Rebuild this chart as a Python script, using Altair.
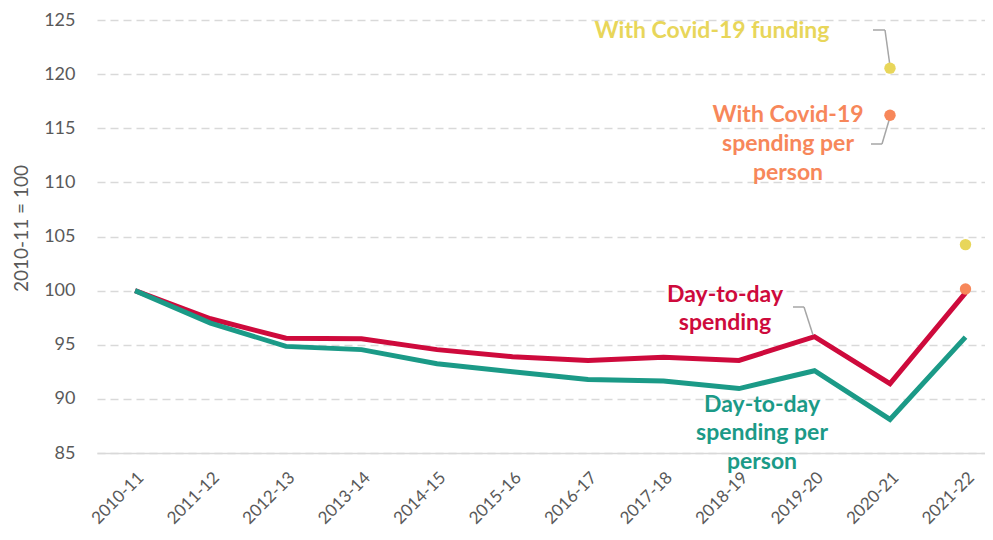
import altair as alt
import pandas as pd

years = ["2010-11", "2011-12", "2012-13", "2013-14", "2014-15", "2015-16",
         "2016-17", "2017-18", "2018-19", "2019-20", "2020-21", "2021-22"]
spending = [100, 97.4, 95.6, 95.55, 94.55, 93.9, 93.55, 93.85, 93.55, 95.75, 91.4, 99.8]
spending_pp = [100, 97.0, 94.85, 94.55, 93.25, 92.5, 91.8, 91.65, 90.95, 92.6, 88.1, 95.7]

covid_years = ["2020-21", "2021-22"]
covid_funding = [120.55, 104.25]
covid_pp = [116.2, 100.15]

RED = "#CE0A3C"
TEAL = "#1B9A87"
YELLOW = "#E8D65A"
ORANGE = "#F7875A"
GREY_TXT = "#595959"
FONT = "Lato"

line_df = pd.DataFrame({
    "year": years * 2,
    "value": spending + spending_pp,
    "series": ["spend"] * len(years) + ["pp"] * len(years),
})
pt_df = pd.DataFrame({
    "year": covid_years * 2,
    "value": covid_funding + covid_pp,
    "series": ["fund"] * 2 + ["cpp"] * 2,
})

ann_text = ["With Covid-19 funding",
            "With Covid-19", "spending per", "person",
            "Day-to-day", "spending",
            "Day-to-day", "spending per", "person"]
ann_color = [YELLOW, ORANGE, ORANGE, ORANGE, RED, RED, TEAL, TEAL, TEAL]
ann_x = [615, 691, 691, 691, 628, 628, 665, 665, 665]
ann_y = [11, 95, 124, 153, 275, 303, 385, 413, 442]
ann_df = pd.DataFrame({"text": ann_text, "c": ann_color, "px": ann_x, "py": ann_y})

seg_df = pd.DataFrame({
    "x1": [776, 788, 774, 785, 696, 707],
    "x2": [788, 793, 785, 793, 707, 716],
    "y1": [10, 10, 124, 124, 287, 287],
    "y2": [10, 46, 124, 97, 287, 315],
})

xenc = alt.X("year:N", sort=years, title=None,
             scale=alt.Scale(type="point", padding=0.381, align=0.661),
             axis=alt.Axis(labelAngle=-45, labelFontSize=17, labelColor=GREY_TXT,
                           labelFont=FONT, ticks=False, domainColor="#D9D9D9",
                           domainWidth=1.5, labelPadding=16, grid=False))
yenc = alt.Y("value:Q", title="2010-11 = 100",
             scale=alt.Scale(domain=[85, 125], nice=False, zero=False),
             axis=alt.Axis(values=list(range(85, 126, 5)), domain=False, ticks=False,
                           labelFontSize=18, labelColor=GREY_TXT, labelFont=FONT,
                           labelPadding=22, gridColor="#D9D9D9", gridDash=[8, 5],
                           gridWidth=1.5, titleFont=FONT, titleFontSize=19,
                           titleColor=GREY_TXT, titleFontWeight="normal",
                           titlePadding=12, titleY=208))

color_scale = alt.Scale(domain=["spend", "pp", "fund", "cpp"],
                        range=[RED, TEAL, YELLOW, ORANGE])

lines = alt.Chart(line_df).mark_line(strokeWidth=5, strokeJoin="miter").encode(
    x=xenc, y=yenc,
    color=alt.Color("series:N", scale=color_scale, legend=None),
    detail="series:N",
)
points = alt.Chart(pt_df).mark_circle(size=130, opacity=1).encode(
    x=alt.X("year:N", sort=years), y="value:Q",
    color=alt.Color("series:N", scale=color_scale, legend=None),
)
segs = alt.Chart(seg_df).mark_rule(color="#A6A6A6", strokeWidth=1.5).encode(
    x=alt.X("x1:Q", scale=None), x2="x2:Q",
    y=alt.Y("y1:Q", scale=None), y2="y2:Q",
)
texts = alt.Chart(ann_df).mark_text(fontSize=23, fontWeight="bold", font=FONT,
                                    align="center", baseline="middle").encode(
    x=alt.X("px:Q", scale=None), y=alt.Y("py:Q", scale=None),
    text="text:N",
    color=alt.Color("c:N", scale=None),
)

chart = alt.layer(lines, segs, points, texts).properties(
    width=888, height=433,
    autosize=alt.AutoSizeParams(type="none"),
    padding={"left": 89, "top": 12, "right": 0, "bottom": 80},
).configure_view(stroke=None)

chart.save("out.html", embed_options={"renderer": "svg", "actions": False})
